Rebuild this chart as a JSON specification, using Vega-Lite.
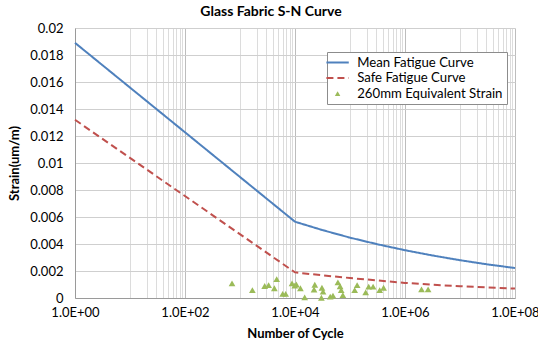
{
  "$schema": "https://vega.github.io/schema/vega-lite/v6.json",
  "width": 440,
  "height": 270,
  "autosize": {"type": "none"},
  "padding": {"left": 75, "top": 28, "right": 23, "bottom": 42},
  "background": "white",
  "title": {"text": "Glass Fabric S-N Curve", "font": "Lato", "fontSize": 14, "fontWeight": "bold", "color": "#000", "anchor": "middle", "frame": "group", "dx": -24, "offset": 3},
  "config": {
    "view": {"stroke": null},
    "axis": {"labelFont": "Lato", "labelFontSize": 13, "labelColor": "#000", "titleFont": "Lato", "titleFontSize": 13, "titleFontWeight": "bold", "titleColor": "#000", "domainColor": "#9a9a9a", "ticks": false}
  },
  "data": {"values": [
    {"N": 1, "strain": 0.0189, "series": "Mean Fatigue Curve"},
    {"N": 10000, "strain": 0.00565, "series": "Mean Fatigue Curve"},
    {"N": 31623, "strain": 0.00503, "series": "Mean Fatigue Curve"},
    {"N": 100000, "strain": 0.00447, "series": "Mean Fatigue Curve"},
    {"N": 316228, "strain": 0.00398, "series": "Mean Fatigue Curve"},
    {"N": 1000000, "strain": 0.00354, "series": "Mean Fatigue Curve"},
    {"N": 3162278, "strain": 0.00315, "series": "Mean Fatigue Curve"},
    {"N": 10000000, "strain": 0.0028, "series": "Mean Fatigue Curve"},
    {"N": 31622777, "strain": 0.00249, "series": "Mean Fatigue Curve"},
    {"N": 100000000, "strain": 0.00222, "series": "Mean Fatigue Curve"},
    {"N": 1, "strain": 0.0132, "series": "Safe Fatigue Curve"},
    {"N": 10000, "strain": 0.0019, "series": "Safe Fatigue Curve"},
    {"N": 31623, "strain": 0.00168, "series": "Safe Fatigue Curve"},
    {"N": 100000, "strain": 0.00148, "series": "Safe Fatigue Curve"},
    {"N": 316228, "strain": 0.0013, "series": "Safe Fatigue Curve"},
    {"N": 1000000, "strain": 0.00112, "series": "Safe Fatigue Curve"},
    {"N": 3162278, "strain": 0.00098, "series": "Safe Fatigue Curve"},
    {"N": 10000000, "strain": 0.00087, "series": "Safe Fatigue Curve"},
    {"N": 31622777, "strain": 0.00078, "series": "Safe Fatigue Curve"},
    {"N": 100000000, "strain": 0.0007, "series": "Safe Fatigue Curve"},
    {"N": 716, "strain": 0.00109, "series": "260mm Equivalent Strain"},
    {"N": 1679, "strain": 0.00059, "series": "260mm Equivalent Strain"},
    {"N": 2812, "strain": 0.00089, "series": "260mm Equivalent Strain"},
    {"N": 3311, "strain": 0.00096, "series": "260mm Equivalent Strain"},
    {"N": 4645, "strain": 0.0014, "series": "260mm Equivalent Strain"},
    {"N": 4217, "strain": 0.00072, "series": "260mm Equivalent Strain"},
    {"N": 5970, "strain": 0.0003, "series": "260mm Equivalent Strain"},
    {"N": 6761, "strain": 0.0003, "series": "260mm Equivalent Strain"},
    {"N": 8831, "strain": 0.00109, "series": "260mm Equivalent Strain"},
    {"N": 9886, "strain": 0.00091, "series": "260mm Equivalent Strain"},
    {"N": 10593, "strain": 0.001, "series": "260mm Equivalent Strain"},
    {"N": 12531, "strain": 0.00072, "series": "260mm Equivalent Strain"},
    {"N": 14997, "strain": 0.00005, "series": "260mm Equivalent Strain"},
    {"N": 22182, "strain": 0.00063, "series": "260mm Equivalent Strain"},
    {"N": 22900, "strain": 0.00098, "series": "260mm Equivalent Strain"},
    {"N": 30903, "strain": 0.00076, "series": "260mm Equivalent Strain"},
    {"N": 32359, "strain": 0.00047, "series": "260mm Equivalent Strain"},
    {"N": 30200, "strain": 0.00002, "series": "260mm Equivalent Strain"},
    {"N": 43652, "strain": 0.0001, "series": "260mm Equivalent Strain"},
    {"N": 48978, "strain": 0.00017, "series": "260mm Equivalent Strain"},
    {"N": 60256, "strain": 0.00116, "series": "260mm Equivalent Strain"},
    {"N": 66069, "strain": 0.00087, "series": "260mm Equivalent Strain"},
    {"N": 69183, "strain": 0.00059, "series": "260mm Equivalent Strain"},
    {"N": 74131, "strain": 0.00022, "series": "260mm Equivalent Strain"},
    {"N": 121619, "strain": 0.00059, "series": "260mm Equivalent Strain"},
    {"N": 134896, "strain": 0.00096, "series": "260mm Equivalent Strain"},
    {"N": 192752, "strain": 0.00042, "series": "260mm Equivalent Strain"},
    {"N": 218776, "strain": 0.00084, "series": "260mm Equivalent Strain"},
    {"N": 263027, "strain": 0.00084, "series": "260mm Equivalent Strain"},
    {"N": 346737, "strain": 0.00059, "series": "260mm Equivalent Strain"},
    {"N": 407380, "strain": 0.00076, "series": "260mm Equivalent Strain"},
    {"N": 1995262, "strain": 0.00064, "series": "260mm Equivalent Strain"},
    {"N": 2630268, "strain": 0.00064, "series": "260mm Equivalent Strain"}
  ]},
  "encoding": {
    "x": {"field": "N", "type": "quantitative",
      "scale": {"type": "log", "domain": [1, 100000000], "nice": false},
      "axis": {
        "title": "Number of Cycle", "titlePadding": 8,
        "values": [1,10,20,30,40,50,60,70,80,90,100,1000,2000,3000,4000,5000,6000,7000,8000,9000,10000,100000,200000,300000,400000,500000,600000,700000,800000,900000,1000000,10000000,20000000,30000000,40000000,50000000,60000000,70000000,80000000,90000000,100000000],
        "grid": true,
        "gridColor": {"condition": {"test": "abs(log(datum.value)/LN10 - round(log(datum.value)/LN10)) < 0.001 && round(log(datum.value)/LN10) % 2 == 0", "value": "#bdbdbd"}, "value": "#dcdcdc"},
        "labelExpr": "(abs(log(datum.value)/LN10 - round(log(datum.value)/LN10)) < 0.001 && round(log(datum.value)/LN10) % 2 == 0) ? '1.0E+' + (round(log(datum.value)/LN10) < 10 ? '0' : '') + round(log(datum.value)/LN10) : ''",
        "labelOverlap": false, "labelFlush": false, "labelPadding": 8
      }},
    "y": {"field": "strain", "type": "quantitative",
      "scale": {"domain": [0, 0.02], "nice": false},
      "axis": {"title": "Strain(um/m)", "titlePadding": 8, "values": [0,0.002,0.004,0.006,0.008,0.01,0.012,0.014,0.016,0.018,0.02], "format": ".3~f", "grid": true, "gridColor": "#cfcfcf", "labelPadding": 12}}
  },
  "layer": [
    {
      "transform": [{"filter": "datum.series != '260mm Equivalent Strain'"}],
      "mark": {"type": "line", "strokeWidth": 2},
      "encoding": {
        "color": {"field": "series", "type": "nominal",
          "scale": {"domain": ["Mean Fatigue Curve", "Safe Fatigue Curve", "260mm Equivalent Strain"], "range": ["#4F81BD", "#C0504D", "#9BBB59"]},
          "legend": {"title": null, "orient": "none", "legendX": 252, "legendY": 24, "fillColor": "white", "strokeColor": "#8c8c8c", "padding": 4, "labelFont": "Lato", "labelFontSize": 13.2, "labelColor": "#000", "labelOffset": 13, "rowPadding": 1.5, "symbolSize": 500,
            "encode": {"symbols": {"update": {
              "fill": {"scale": "color", "field": "value"},
              "stroke": {"scale": "color", "field": "value"},
              "shape": {"scale": "shape", "field": "value"},
              "strokeDash": {"scale": "strokeDash", "field": "value"},
              "size": {"signal": "datum.value === '260mm Equivalent Strain' ? 30 : 500"},
              "strokeWidth": {"signal": "datum.value === '260mm Equivalent Strain' ? 0 : 2"},
              "opacity": {"value": 1}
            }}}}},
        "strokeDash": {"field": "series", "type": "nominal",
          "scale": {"domain": ["Mean Fatigue Curve", "Safe Fatigue Curve", "260mm Equivalent Strain"], "range": [[1, 0], [7, 4], [1, 0]]},
          "legend": null}
      }
    },
    {
      "transform": [{"filter": "datum.series == '260mm Equivalent Strain'"}],
      "mark": {"type": "point", "filled": true, "size": 45, "opacity": 1},
      "encoding": {
        "color": {"field": "series", "type": "nominal"},
        "shape": {"field": "series", "type": "nominal",
          "scale": {"domain": ["Mean Fatigue Curve", "Safe Fatigue Curve", "260mm Equivalent Strain"], "range": ["stroke", "stroke", "triangle-up"]},
          "legend": null}
      }
    }
  ]
}
